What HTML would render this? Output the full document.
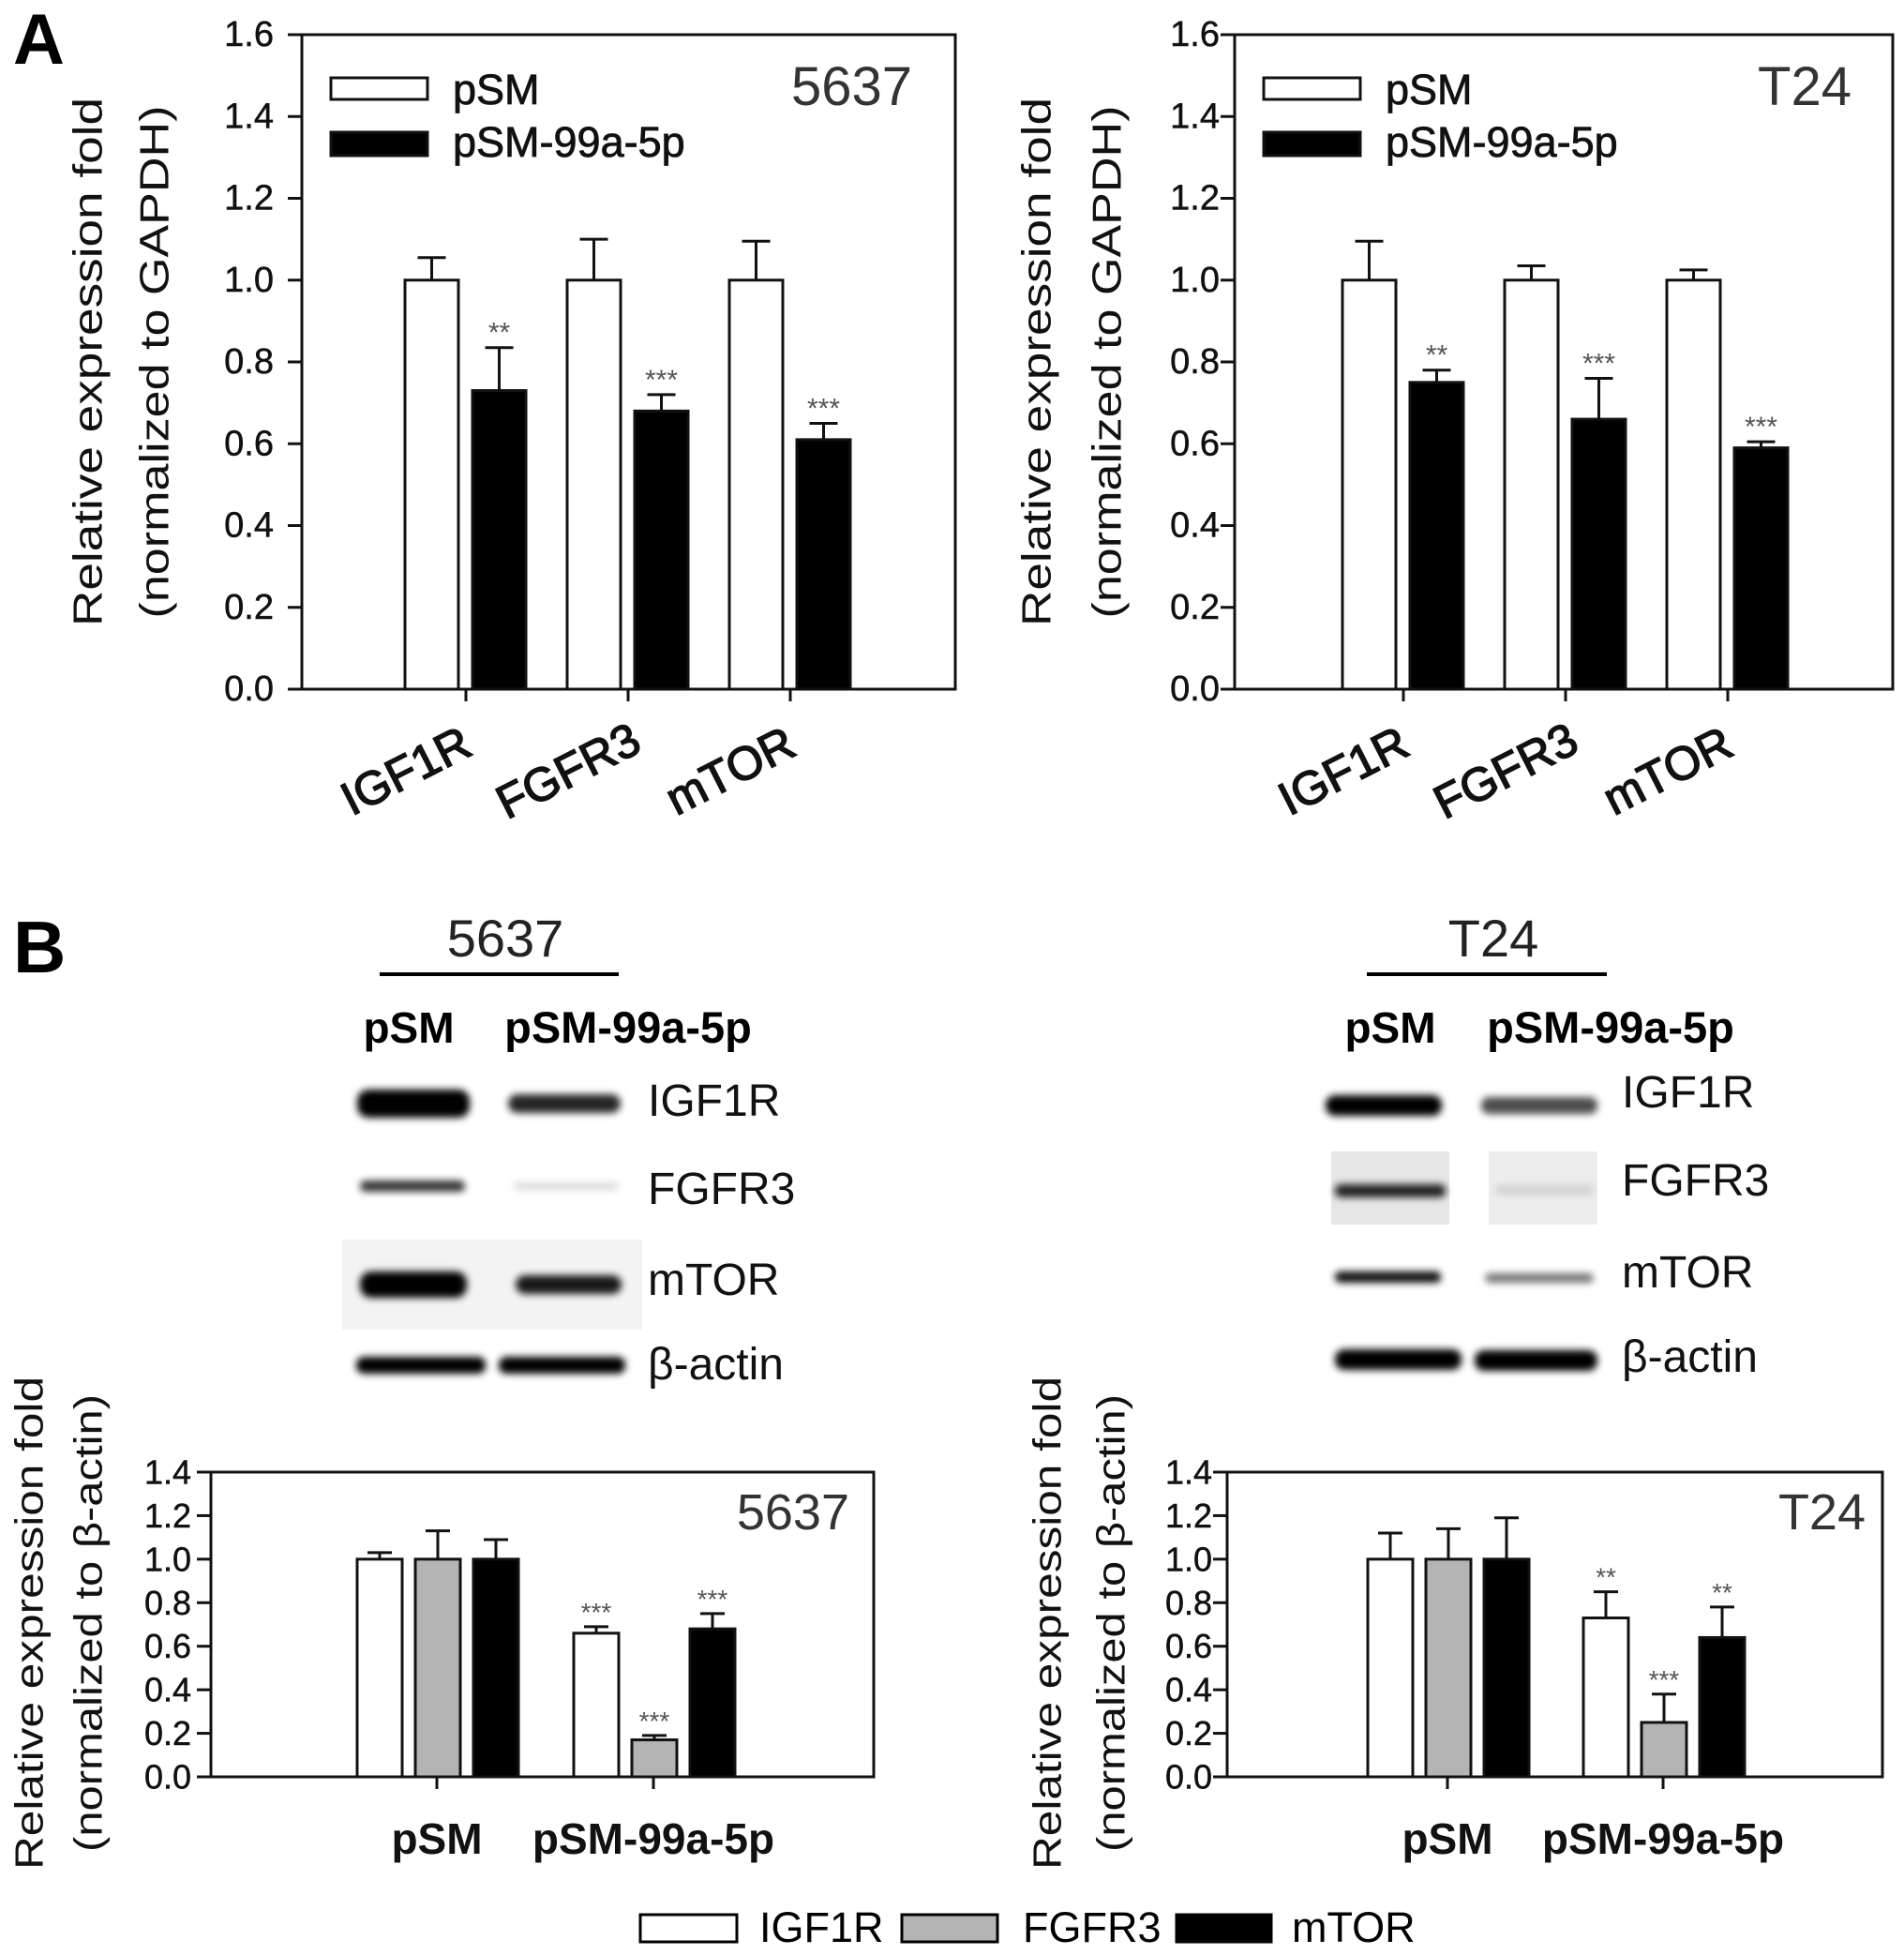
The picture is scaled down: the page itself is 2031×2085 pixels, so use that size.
<!DOCTYPE html>
<html><head><meta charset="utf-8">
<style>
html,body{margin:0;padding:0;background:#fff;}
svg{display:block;font-family:"Liberation Sans",Arial,sans-serif;}
</style></head>
<body>
<svg id="fig" width="2031" height="2085" viewBox="0 0 2031 2085" xmlns="http://www.w3.org/2000/svg">
<defs>
<filter id="blur" x="-20%" y="-100%" width="140%" height="300%"><feGaussianBlur stdDeviation="4"/></filter>
</defs>
<text x="14" y="68" font-size="76" font-weight="bold">A</text>
<text x="14" y="1037" font-size="78" font-weight="bold">B</text>

<g>
<text x="539" y="1020" font-size="56" text-anchor="middle" fill="#222">5637</text>
<line x1="405" y1="1039" x2="660" y2="1039" stroke="#000" stroke-width="4"/>
<text x="436" y="1112" font-size="46" font-weight="bold" text-anchor="middle">pSM</text>
<text x="670" y="1112" font-size="47" font-weight="bold" text-anchor="middle">pSM-99a-5p</text>
<rect x="365" y="1322" width="320" height="96" fill="#f3f3f3"/>
<g filter="url(#blur)">
<rect x="381" y="1162" width="120" height="30" rx="12" fill="#000"/>
<rect x="542" y="1167" width="120" height="20" rx="10" fill="#000" opacity="0.85"/>
<rect x="384" y="1259" width="112" height="12" rx="6" fill="#000" opacity="0.8"/>
<rect x="548" y="1261" width="112" height="8" rx="4" fill="#000" opacity="0.15"/>
<rect x="384" y="1356" width="114" height="28" rx="12" fill="#000"/>
<rect x="550" y="1360" width="113" height="20" rx="10" fill="#000" opacity="0.9"/>
<rect x="380" y="1447" width="138" height="18" rx="8" fill="#000"/>
<rect x="532" y="1447" width="135" height="18" rx="8" fill="#000"/>
</g>
<text x="691" y="1190" font-size="48" fill="#111">IGF1R</text>
<text x="691" y="1284" font-size="48" fill="#111">FGFR3</text>
<text x="691" y="1381" font-size="48" fill="#111">mTOR</text>
<text x="691" y="1471" font-size="48" fill="#111">β-actin</text>
</g>

<g>
<text x="1593" y="1020" font-size="56" text-anchor="middle" fill="#222">T24</text>
<line x1="1458" y1="1039" x2="1714" y2="1039" stroke="#000" stroke-width="4"/>
<text x="1483" y="1112" font-size="46" font-weight="bold" text-anchor="middle">pSM</text>
<text x="1718" y="1112" font-size="47" font-weight="bold" text-anchor="middle">pSM-99a-5p</text>
<rect x="1420" y="1228" width="126" height="78" fill="#e6e6e6"/>
<rect x="1588" y="1228" width="116" height="78" fill="#ededed"/>
<g filter="url(#blur)">
<rect x="1414" y="1168" width="124" height="22" rx="10" fill="#000"/>
<rect x="1580" y="1170" width="124" height="18" rx="8" fill="#000" opacity="0.7"/>
<rect x="1424" y="1263" width="118" height="14" rx="6" fill="#000" opacity="0.85"/>
<rect x="1595" y="1264" width="105" height="10" rx="5" fill="#000" opacity="0.12"/>
<rect x="1424" y="1356" width="113" height="12" rx="5" fill="#000" opacity="0.95"/>
<rect x="1584" y="1358" width="116" height="10" rx="5" fill="#000" opacity="0.55"/>
<rect x="1424" y="1439" width="135" height="22" rx="10" fill="#000"/>
<rect x="1573" y="1440" width="131" height="22" rx="10" fill="#000"/>
</g>
<text x="1730" y="1181" font-size="48" fill="#111">IGF1R</text>
<text x="1730" y="1275" font-size="48" fill="#111">FGFR3</text>
<text x="1730" y="1373" font-size="48" fill="#111">mTOR</text>
<text x="1730" y="1463" font-size="48" fill="#111">β-actin</text>
</g>

<g>
<rect x="683" y="2042" width="103" height="29" fill="#fff" stroke="#000" stroke-width="3"/>
<text x="810" y="2071" font-size="45">IGF1R</text>
<rect x="962" y="2042" width="102" height="29" fill="#b4b4b4" stroke="#000" stroke-width="3"/>
<text x="1091" y="2071" font-size="45">FGFR3</text>
<rect x="1255" y="2042" width="101" height="29" fill="#000" stroke="#000" stroke-width="3"/>
<text x="1378" y="2071" font-size="45">mTOR</text>
</g>
</svg>

<script>
// ---- Panel A data ----
const catsA = ['IGF1R', 'FGFR3', 'mTOR'];
const a5637Ctrl = [1.0, 1.0, 1.0];
const a5637CtrlErr = [0.055, 0.10, 0.095];
const a5637Mir = [0.73, 0.68, 0.61];
const a5637MirErr = [0.105, 0.04, 0.04];
const a5637Sig = ['**', '***', '***'];
const aT24Ctrl = [1.0, 1.0, 1.0];
const aT24CtrlErr = [0.095, 0.035, 0.025];
const aT24Mir = [0.75, 0.66, 0.59];
const aT24MirErr = [0.03, 0.10, 0.015];
const aT24Sig = ['**', '***', '***'];
const ticksA = ['0.0', '0.2', '0.4', '0.6', '0.8', '1.0', '1.2', '1.4', '1.6'];
// ---- Panel B data ----
const groupsB = ['pSM', 'pSM-99a-5p'];
const seriesB = ['IGF1R', 'FGFR3', 'mTOR'];
const b5637IGF1R = [1.0, 0.66];
const b5637IGF1RErr = [0.03, 0.03];
const b5637FGFR3 = [1.0, 0.17];
const b5637FGFR3Err = [0.13, 0.02];
const b5637MTOR = [1.0, 0.68];
const b5637MTORErr = [0.09, 0.07];
const b5637Sig = ['***', '***', '***'];
const bT24IGF1R = [1.0, 0.73];
const bT24IGF1RErr = [0.12, 0.12];
const bT24FGFR3 = [1.0, 0.25];
const bT24FGFR3Err = [0.14, 0.13];
const bT24MTOR = [1.0, 0.64];
const bT24MTORErr = [0.19, 0.14];
const bT24Sig = ['**', '***', '**'];
const ticksB = ['0.0', '0.2', '0.4', '0.6', '0.8', '1.0', '1.2', '1.4'];

const NS = 'http://www.w3.org/2000/svg';
const svg = document.getElementById('fig');
function mk(tag, attrs, parent) {
  const e = document.createElementNS(NS, tag);
  for (const k in attrs) e.setAttribute(k, attrs[k]);
  (parent || svg).appendChild(e);
  return e;
}

function axisFrame(g, p, ticks, tickFont, prefix) {
  const fr = mk('rect', {x: p.left, y: p.top, width: p.right - p.left, height: p.bottom - p.top, fill: 'none', stroke: '#111', 'stroke-width': 3}, g);
  
  
  ticks.forEach(t => {
    const y = p.y(parseFloat(t));
    const tl = mk('line', {x1: p.left - 15, x2: p.left, y1: y, y2: y, stroke: '#111', 'stroke-width': 3}, g);
    
    
    const tx = mk('text', {x: p.labelRight, y: y, 'font-size': tickFont, 'text-anchor': 'end', 'dominant-baseline': 'central', fill: '#111', stroke: '#111', 'stroke-width': 0.5}, g);
    tx.textContent = t;
    
    
  });
}

function bar(g, x, w, v, err, fill, p, name, sig, sigFont, capW) {
  const y0 = p.y(0), y1 = p.y(v), ye = p.y(v + err);
  const l = mk('line', {x1: x + w / 2, x2: x + w / 2, y1: y1, y2: ye, stroke: '#111', 'stroke-width': 3}, g);
  
  
  const c = mk('line', {x1: x + w / 2 - capW / 2, x2: x + w / 2 + capW / 2, y1: ye, y2: ye, stroke: '#111', 'stroke-width': 3}, g);
  
  
  const r = mk('rect', {x: x, y: y1, width: w, height: y0 - y1, fill: fill, stroke: '#111', 'stroke-width': 3}, g);
  
  
  if (sig) {
    const s = mk('text', {x: x + w / 2, y: ye - 6, 'font-size': sigFont, 'text-anchor': 'middle', fill: '#555'}, g);
    s.textContent = sig;
    
    
  }
}

function yTitle(g, x1, x2, yc, l1, l2, len1, len2, fs, prefix) {
  const t1 = mk('text', {transform: `translate(${x1},${yc}) rotate(-90)`, 'font-size': fs, 'text-anchor': 'middle', 'dominant-baseline': 'central', textLength: len1, lengthAdjust: 'spacingAndGlyphs', fill: '#111'}, g);
  t1.textContent = l1;
  
  
  const t2 = mk('text', {transform: `translate(${x2},${yc}) rotate(-90)`, 'font-size': fs, 'text-anchor': 'middle', 'dominant-baseline': 'central', textLength: len2, lengthAdjust: 'spacingAndGlyphs', fill: '#111'}, g);
  t2.textContent = l2;
  
  
}

function panelA(p, ctrl, ctrlErr, mir, mirErr, sig, inset, prefix) {
  const g = mk('g', {});
  
  
  axisFrame(g, p, ticksA, 38, prefix);
  catsA.forEach((c, i) => {
    const cx = p.x(i);
    const tk = mk('line', {x1: cx, x2: cx, y1: p.bottom, y2: p.bottom + 13, stroke: '#111', 'stroke-width': 3}, g);
    
    
    bar(g, cx - 65, 57, ctrl[i], ctrlErr[i], '#fff', p, prefix + '-bar-psm-' + c.toLowerCase(), null, 30, 30);
    bar(g, cx + 7, 57, mir[i], mirErr[i], '#000', p, prefix + '-bar-99a-' + c.toLowerCase(), sig[i], 30, 30);
    const lb = mk('text', {transform: `translate(${cx - 64},${p.bottom + 87}) rotate(-27)`, 'font-size': 50, 'text-anchor': 'middle', 'dominant-baseline': 'central', fill: '#111', stroke: '#111', 'stroke-width': 1.5}, g);
    lb.textContent = c;
    
    
  });
  const lw = mk('rect', {x: p.left + 31, y: 83, width: 103, height: 23, fill: '#fff', stroke: '#111', 'stroke-width': 3}, g);
  
  
  const lb2 = mk('rect', {x: p.left + 31, y: 141, width: 103, height: 25, fill: '#000', stroke: '#111', 'stroke-width': 3}, g);
  
  
  const t1 = mk('text', {x: p.left + 161, y: 111, 'font-size': 45, fill: '#111', stroke: '#111', 'stroke-width': 0.8}, g);
  t1.textContent = 'pSM';
  
  
  const t2 = mk('text', {x: p.left + 161, y: 167, 'font-size': 45, fill: '#111', stroke: '#111', 'stroke-width': 0.8}, g);
  t2.textContent = 'pSM-99a-5p';
  
  
  const ins = mk('text', {x: p.insetX, y: 112, 'font-size': 58, 'text-anchor': 'end', fill: '#333'}, g);
  ins.textContent = inset;
  
  
  yTitle(g, p.tx1, p.tx2, 386, 'Relative expression fold', '(normalized to GAPDH)', 564, 547, 44, prefix);
}

function panelB(p, s1, e1, s2, e2, s3, e3, sig, inset, prefix) {
  const g = mk('g', {});
  
  
  axisFrame(g, p, ticksB, 36, prefix);
  const vals = [s1, s2, s3], errs = [e1, e2, e3], fills = ['#fff', '#b4b4b4', '#000'];
  groupsB.forEach((gname, j) => {
    const cx = p.x(j);
    const tk = mk('line', {x1: cx, x2: cx, y1: p.bottom, y2: p.bottom + 13, stroke: '#111', 'stroke-width': 3}, g);
    
    
    seriesB.forEach((s, k) => {
      bar(g, cx - 85 + k * 62, 48, vals[k][j], errs[k][j], fills[k], p, prefix + '-bar-' + s.toLowerCase() + '-' + (j === 0 ? 'psm' : '99a'), j === 1 ? sig[k] : null, 28, 26);
    });
    const lb = mk('text', {x: cx, y: 1977, 'font-size': 46, 'font-weight': 'bold', 'text-anchor': 'middle', fill: '#111'}, g);
    lb.textContent = gname;
    
    
  });
  const ins = mk('text', {x: p.insetX, y: 1631, 'font-size': 54, 'text-anchor': 'end', fill: '#333'}, g);
  ins.textContent = inset;
  
  
  yTitle(g, p.tx1, p.tx2, 1731, 'Relative expression fold', '(normalized to β-actin)', 526, 488, 42, prefix);
}

const yA = v => 735 - v / 1.6 * 698;
const yB = v => 1895 - v / 1.4 * 325;

panelA({left: 322, right: 1019, top: 37, bottom: 735, y: yA, x: i => 497 + i * 173, labelRight: 292, insetX: 973, tx1: 94, tx2: 165},
  a5637Ctrl, a5637CtrlErr, a5637Mir, a5637MirErr, a5637Sig, '5637', 'a-5637');
panelA({left: 1317, right: 2019, top: 37, bottom: 735, y: yA, x: i => 1497 + i * 173, labelRight: 1301, insetX: 1975, tx1: 1106, tx2: 1181},
  aT24Ctrl, aT24CtrlErr, aT24Mir, aT24MirErr, aT24Sig, 'T24', 'a-t24');
panelB({left: 225, right: 932, top: 1570, bottom: 1895, y: yB, x: j => 466 + j * 231, labelRight: 204, insetX: 906, tx1: 31, tx2: 94},
  b5637IGF1R, b5637IGF1RErr, b5637FGFR3, b5637FGFR3Err, b5637MTOR, b5637MTORErr, b5637Sig, '5637', 'b-5637');
panelB({left: 1309, right: 2008, top: 1570, bottom: 1895, y: yB, x: j => 1544 + j * 230, labelRight: 1293, insetX: 1990, tx1: 1117, tx2: 1185},
  bT24IGF1R, bT24IGF1RErr, bT24FGFR3, bT24FGFR3Err, bT24MTOR, bT24MTORErr, bT24Sig, 'T24', 'b-t24');
</script>
</body></html>
